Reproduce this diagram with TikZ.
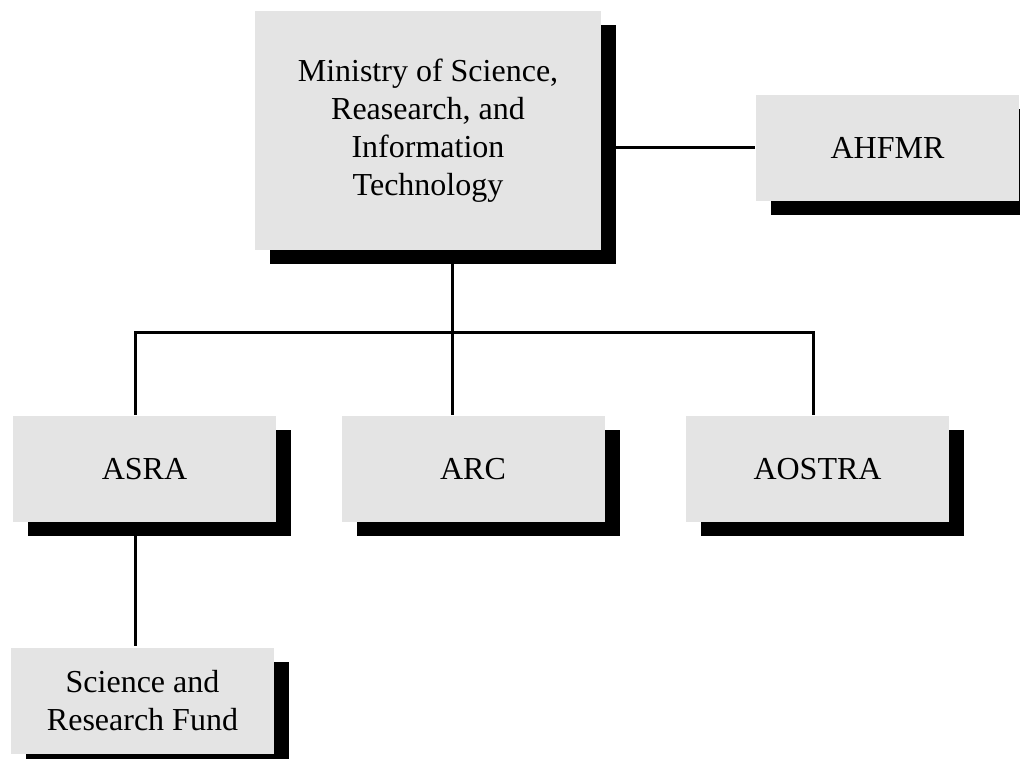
\documentclass[tikz,border=0pt]{standalone}
\usepackage{fontspec}
\setmainfont{Liberation Serif}
\usetikzlibrary{shadows, calc, positioning}
\definecolor{boxgray}{HTML}{E4E4E4}

\begin{document}
\begin{tikzpicture}[x=0.75pt, y=-0.75pt, line width=2.25pt,
  orgbox/.style={fill=boxgray, inner sep=0pt, minimum width=197.25pt, minimum height=79.5pt,
    align=center, font=\fontsize{24}{28.5}\selectfont,
    drop shadow={shadow xshift=11.5pt, shadow yshift=-10.5pt, fill=black, opacity=1}}]
  \path[use as bounding box, fill=white] (0,0) rectangle (1020,759);

  % boxes
  \node[orgbox, minimum width=259.5pt, minimum height=179.25pt] (min) at (428,130.5)
    {Ministry of Science,\\ Reasearch, and\\ Information\\ Technology};
  \node[orgbox] (ahfmr) at (887.5,148) {AHFMR};
  \node[orgbox] (asra) at (144.5,469) {ASRA};
  \node[orgbox] (arc) at (473,469) {ARC};
  \node[orgbox] (aostra) at (817.5,469) {AOSTRA};
  \node[orgbox] (srf) at (142.5,700.5) {Science and\\ Research Fund};

  % connectors
  \coordinate (split) at ($(min.south)+(24,81)$);
  \coordinate (asradrop) at ($(asra.south)+(-9.5,0)$);
  \draw (min.east |- ahfmr.west) -- (ahfmr.west);
  \draw ($(min.south)+(24,0)$) -- (split);
  \draw ($(asra.north)+(-9.5,0)$) |- (split) -| ($(aostra.north)+(-4.5,0)$);
  \draw (split) -- (split |- arc.north);
  \draw (asradrop) -- (asradrop |- srf.north);
\end{tikzpicture}
\end{document}
